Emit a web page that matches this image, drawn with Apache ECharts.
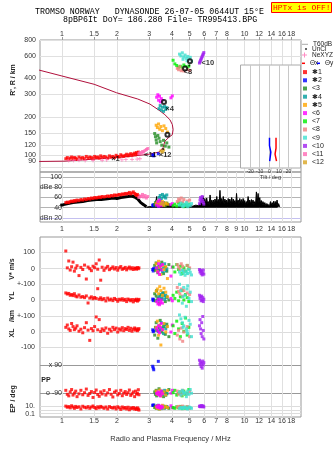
<!DOCTYPE html>
<html>
<head>
<meta charset="utf-8">
<script src="https://cdn.jsdelivr.net/npm/echarts@6/dist/echarts.min.js"></script>
<style>
html, body { margin: 0; padding: 0; background: #fff; }
#chart { width: 335px; height: 451px; }
</style>
</head>
<body>
<div id="chart"></div>
<script>
// --- tick labels ---
const topTicks = [1, 1.5, 2, 3, 4, 5, 6, 7, 8, 10, 12, 14, 16, 18];
const midTicks = [1, 1.5, 2, 3, 4, 5, 6, 7, 8, 9, 10, 12, 14, 16, 18];
const heightTicks = [80, 90, 100, 120, 150, 200, 300, 400, 600, 800];
const dbTicks = [20, 40, 60, 80, 100];
const dbTickText = {20: 'dBn 20', 40: '40', 60: '60', 80: 'dBe 80', 100: '100'};
const tiltTicks = [-20, -10, 0, 10, 20];

// --- model profile (MHz, km) ---
const profileFreq = [0.75, 1.04, 1.30, 1.60, 2.00, 2.50, 3.00, 3.40, 3.58, 3.66, 3.82, 4.02, 4.06, 4.02, 3.90, 3.66, 3.44, 3.03, 2.60, 1.99, 1.50, 1.00, 0.75];
const profileHeight = [89.5, 90, 92, 94, 96, 99, 102, 106, 115, 129, 137, 145, 159, 174, 190, 208, 223, 252, 276, 309, 360, 418, 465];

// --- echo cluster 1 (red) ---
const c1Freq = [1.05,1.07,1.09,1.11,1.13,1.15,1.17,1.19,1.21,1.24,1.27,1.30,1.33,1.36,1.39,1.42,1.45,1.48,1.51,1.54,1.57,1.60,1.63,1.66,1.70,1.74,1.78,1.82,1.86,1.90,1.94,1.98,2.02,2.06,2.10,2.14,2.18,2.22,2.26,2.30,2.34,2.38,2.42,2.46,2.50,2.53,2.56,2.59,2.62,2.64];
const c1Height = [94,96,93,95,97,94,96,95,93,97,95,96,94,98,95,97,96,94,98,96,97,95,99,96,98,97,95,99,97,98,96,100,98,97,101,99,98,100,102,99,101,103,100,102,104,101,105,103,106,104];
const c1Amp = [50,51,50,52,53,52,54,53,55,54,56,55,57,56,58,57,59,58,60,59,60,61,60,62,61,62,63,62,64,63,65,64,65,66,65,67,66,68,67,68,70,67,69,71,68,66,64,66,63,62];
const c1Vstar = [108,5,47,-8,12,40,-15,3,18,-42,8,-5,22,-63,10,0,-12,15,6,30,-3,53,-70,9,-10,4,14,-6,2,11,-2,7,-9,5,13,-4,1,8,-7,3,10,-1,6,-5,4,2,-3,7,0,5];
const c1YL = [45,38,42,30,35,28,40,25,20,32,18,22,15,26,-19,12,20,8,16,10,72,5,14,2,9,-6,12,0,6,-4,10,3,-8,5,0,8,-2,4,-10,6,1,-5,3,-12,2,-3,5,-7,-1,4];
const c1XL = [30,45,20,10,55,35,15,25,40,5,18,-5,28,60,12,-54,22,8,35,97,14,80,3,20,10,26,-8,18,6,30,15,25,0,20,12,28,8,22,16,30,10,24,5,18,26,12,20,8,15,22];
const c1PP = [-70,-95,-105,-80,-65,-100,-88,-75,-110,-92,-70,-98,-85,-62,-102,-90,-78,-115,-84,-68,-96,-108,-80,-93,-72,-100,-86,-65,-95,-112,-82,-74,-99,-90,-70,-104,-88,-78,-96,-85,-68,-102,-92,-80,-110,-75,-94,-88,-66,-98];
const c1EP = [12,6,9,4,15,7,3,10,5,8,2,11,6,4,9,3,7,13,5,2.5,8,4,10,6,3,7,2,9,5,3.5,6,2,8,4,1.5,7,3,5,2,6,1.2,4,2.5,5,1.8,3,1.5,4,2,1];

// --- clusters 2..12 ---
const c2Freq = [3.14, 3.16, 3.18, 3.37];
const c2Height = [100, 101, 99, 103];
const c2Amp = [45, 44, 46, 43];
const c2Vstar = [-5, -14, 2, -9];
const c2YL = [6, -4, 2, 0];
const c2XL = [14, 2, 8, 5];
const c2PP = [82, 71, 60, 113];
const c2EP = [22, 18, 25, 20];

const c3Freq = [3.22,3.25,3.28,3.30,3.35,3.40,3.45,3.52,3.60,3.68,3.75,3.85];
const c3Height = [148,140,132,125,143,136,128,120,131,118,125,116];
const c3Amp = [46,50,44,52,48,45,53,47,50,44,49,46];
const c3Vstar = [20,-10,35,5,-25,15,-5,40,-30,10,-15,25];
const c3YL = [40,-5,25,60,10,-20,30,5,45,-10,20,0];
const c3XL = [-20,30,60,10,-40,25,75,0,35,-15,50,-30];
const c3PP = [-80,-95,-70,-105,-88,-60,-98,-75,-110,-85,-92,-65];
const c3EP = [5,12,3,8,15,2,6,10,4,9,7,3];

const c4Freq = [3.40,3.45,3.50,3.55,3.60,3.65,3.70,3.75];
const c4Height = [232,245,226,238,221,241,229,236];
const c4Amp = [60,64,58,66,61,63,59,65];
const c4Vstar = [10,-5,25,-20,5,30,-12,0];
const c4YL = [20,35,10,45,25,5,30,15];
const c4XL = [40,15,60,25,-10,50,20,35];
const c4PP = [-88,-100,-78,-95,-84,-70,-102,-90];
const c4EP = [4,8,2.5,6,12,3,5,9];

const c5Freq = [3.28,3.33,3.38,3.43,3.48,3.55,3.62,3.70,3.78];
const c5Height = [172,165,176,160,168,156,170,162,152];
const c5Amp = [48,51,46,50,47,52,45,49,47];
const c5Vstar = [30,-15,45,8,-35,20,-5,12,-60];
const c5YL = [55,70,40,85,60,30,75,50,20];
const c5XL = [30,70,-20,45,-84,15,55,0,35];
const c5PP = [-75,-95,-85,-68,-105,-90,-80,-100,-72];
const c5EP = [6,3,14,2,8,20,4,11,5];

const c6Freq = [3.30,3.35,3.38,3.42,3.46,3.50,3.55,3.95,4.02];
const c6Height = [285,298,270,290,262,278,268,282,292];
const c6Amp = [45,52,43,55,47,44,50,46,48];
const c6Vstar = [5,-20,30,-35,15,-8,25,-45,10];
const c6YL = [-10,-25,5,-30,-15,0,-20,10,-5];
const c6XL = [25,10,40,-5,30,55,15,0,45];
const c6PP = [-90,-80,-98,-85,-105,-75,-92,-88,-70];
const c6EP = [10,5,18,7,3,12,6,15,4];

const c7Freq = [4.06,4.15,4.25,4.35,4.45,4.55,4.65,4.75,4.85,4.95];
const c7Height = [555,520,505,490,498,485,510,495,480,500];
const c7Amp = [44,47,43,49,45,48,42,46,44,47];
const c7Vstar = [10,-20,25,-5,15,-30,5,-15,20,0];
const c7YL = [30,10,50,-5,20,60,0,35,15,-10];
const c7XL = [40,-10,70,20,-30,55,5,90,-20,30];
const c7PP = [-85,-70,-100,-90,-80,-105,-75,-95,-88,-65];
const c7EP = [5,3,8,4,10,2.5,6,3,7,4];

const c8Freq = [4.28,4.35,4.42,4.50,4.58,4.65,4.85,5.00];
const c8Height = [480,468,495,460,472,458,470,462];
const c8Amp = [52,57,54,59,51,56,53,55];
const c8Vstar = [25,10,-5,30,15,-10,20,5];
const c8YL = [80,55,40,70,25,60,45,35];
const c8XL = [-20,10,-45,25,-60,0,35,-30];
const c8PP = [-75,-95,-80,-100,-70,-88,-92,-78];
const c8EP = [6,10,4,8,12,5,9,3];

const c9Freq = [4.40,4.48,4.56,4.64,4.72,4.80,4.88,4.96,5.04,5.12,4.60,4.84];
const c9Height = [620,600,635,590,610,575,595,560,585,545,565,550];
const c9Amp = [45,49,43,47,44,50,42,46,44,48,43,47];
const c9Vstar = [-20,-35,-10,-25,-40,-15,-30,-5,-22,-38,-12,-28];
const c9YL = [100,60,-20,80,30,-40,90,10,50,-10,20,70];
const c9XL = [110,85,60,40,95,20,-10,75,50,-30,30,5];
const c9PP = [-80,-100,-70,-90,-85,-110,-75,-95,-65,-88,-78,-92];
const c9EP = [3,5,2.5,4,6,3.5,2,7,4.5,3,5.5,2.8];

const c10Freq = [5.66,5.70,5.74,5.78,5.82,5.86,5.90,5.94,5.98];
const c10Height = [528,540,555,568,580,595,610,622,638];
const c10Amp = [48,55,60,52,58,62,54,50,47];
const c10Vstar = [-5,-20,-10,-30,-15,-38,-25,-8,-33];
const c10YL = [30,10,20,-5,25,0,15,-10,5];
const c10XL = [40,80,20,-10,60,-30,100,10,-45];
const c10PP = [120,95,110,80,100,70,115,90,105];
const c10EP = [10,14,8,12,16,9,13,11,7];

const c11Freq = [2.64,2.68,2.72,2.76,2.80,2.85,2.90,2.95];
const c11Height = [103,105,104,107,106,109,111,113];
const c11Amp = [60,63,62,66,61,64,59,62];

const c12Freq = [3.48, 3.55, 3.60];
const c12Height = [108, 106, 110];
const c12Amp = [47, 50, 45];

// --- electron density points, unclassified echoes, rings, tags ---
const neFreq = [1.09,1.16,1.24,1.34,1.48,1.66,1.76,2.13,2.24,2.42,2.58,2.67];
const neHeight = [91,91,91.5,91,91,91.5,92,92,92.5,93,93.5,94];
const unclFreq = [3.58, 4.98];
const unclHeight = [112, 505];
const ringFreq = [3.78, 3.62, 5.02, 4.72];
const ringHeight = [145, 262, 545, 478];
const tagFreq = [1.85, 2.80, 3.37, 3.66, 4.61, 5.77];
const tagHeight = [93, 101, 101, 232, 452, 525];
const tagText = ['×1', '<11', '×12', '×4', '<8', '<10'];

// --- received amplitude (black trace) ---
const ampLowFreq = [0.98,1.02,1.08,1.15,1.22,1.30,1.38,1.46,1.55,1.64,1.73,1.82,1.92,2.00,2.10,2.20,2.30,2.40,2.50,2.60,2.70,2.80,2.90];
const ampLowDb = [45,46,48,50,51,52,54,55,56,56,57,58,59,58,60,61,62,63,61,57,50,46,42];
const ampHiFreq = [2.90,2.95,3.00,3.05,3.10,3.15,3.20,3.25,3.30,3.33,3.40,3.45,3.50,3.55,3.60,3.70,3.80,3.90,4.00,4.10,4.20,4.30,4.40,4.50,4.60,4.70,4.80,4.90,5.00,5.10,5.20,5.30,5.40,5.50,5.60,5.70,5.80,5.93,6.00,6.06,6.13,6.20,6.27,6.33,6.40,6.47,6.55,6.62,6.70,6.76,6.83,6.88,6.96,7.04,7.12,7.19,7.26,7.33,7.40,7.48,7.56,7.64,7.72,7.80,7.88,7.96,8.05,8.13,8.22,8.30,8.40,8.50,8.58,8.66,8.75,8.85,8.94,9.03,9.12,9.22,9.31,9.41,9.50,9.60,9.70,9.81,9.92,10.02,10.12,10.23,10.34,10.45,10.56,10.67,10.78,10.90,11.00,11.12,11.25,11.36,11.48,11.60,11.72,11.85,11.97,12.10,12.22,12.35,12.48,12.60,12.75,12.90,13.05,13.20,13.35,13.50,13.70,13.85,14.00,14.15,14.30,14.45,14.60,14.75,14.90,15.05,15.20,15.35,15.50,15.60];
const ampHiDb = [41,43,42,44,42,45,43,47,62,44,48,43,46,42,47,44,49,43,46,42,44,41,45,42,46,43,45,42,44,41,43,42,45,43,44,48,46,62,50,58,47,59,48,52,46,65,49,55,47,55,46,57,50,62,48,56,50,74,47,58,49,62,47,57,50,55,46,58,49,57,48,60,47,57,50,54,46,68,50,55,47,58,49,56,47,58,50,54,46,52,48,62,49,55,47,56,48,55,46,52,47,71,50,68,49,60,48,54,46,52,45,50,44,48,45,50,44,52,45,50,46,53,45,52,46,55,44,48,43,41];

// --- tilt inset (deg, km) ---
const tiltXDeg = [7, 7, 6, 6, 7.5, 7.5];
const tiltXHeight = [137, 114, 113, 102, 101, 90];
const tiltYDeg = [0.2, 0.2, 1.6, 1.6, 0.4, 0.4];
const tiltYHeight = [137, 119, 118, 106, 105, 90];

const lg = v => Math.log10(v);
const id = v => v;
const pts = (xs, ys, fx, fy) => xs.map((x, i) => [fx(x), fy(ys[i])]);

const X_MIN = -0.12, X_MAX = 1.3086;
const FONT = 'Liberation Sans';
const labelStyle = {fontFamily: FONT, fontSize: 7, color: '#333'};
const plusPath = 'path://M2,0H3V2H5V3H3V5H2V3H0V2H2Z';

const clusters = [
    {name: '✱1', color: '#ff0000', freq: c1Freq, height: c1Height, amp: c1Amp, vstar: c1Vstar, yl: c1YL, xl: c1XL, pp: c1PP, ep: c1EP},
    {name: '✱2', color: '#0000ff', freq: c2Freq, height: c2Height, amp: c2Amp, vstar: c2Vstar, yl: c2YL, xl: c2XL, pp: c2PP, ep: c2EP},
    {name: '<3', color: '#228b22', freq: c3Freq, height: c3Height, amp: c3Amp, vstar: c3Vstar, yl: c3YL, xl: c3XL, pp: c3PP, ep: c3EP},
    {name: '✱4', color: '#009c9c', freq: c4Freq, height: c4Height, amp: c4Amp, vstar: c4Vstar, yl: c4YL, xl: c4XL, pp: c4PP, ep: c4EP},
    {name: '✱5', color: '#ffa500', freq: c5Freq, height: c5Height, amp: c5Amp, vstar: c5Vstar, yl: c5YL, xl: c5XL, pp: c5PP, ep: c5EP},
    {name: '<6', color: '#ff00ff', freq: c6Freq, height: c6Height, amp: c6Amp, vstar: c6Vstar, yl: c6YL, xl: c6XL, pp: c6PP, ep: c6EP},
    {name: '<7', color: '#00ee00', freq: c7Freq, height: c7Height, amp: c7Amp, vstar: c7Vstar, yl: c7YL, xl: c7XL, pp: c7PP, ep: c7EP},
    {name: '<8', color: '#f08080', freq: c8Freq, height: c8Height, amp: c8Amp, vstar: c8Vstar, yl: c8YL, xl: c8XL, pp: c8PP, ep: c8EP},
    {name: '<9', color: '#40e0d0', freq: c9Freq, height: c9Height, amp: c9Amp, vstar: c9Vstar, yl: c9YL, xl: c9XL, pp: c9PP, ep: c9EP},
    {name: '<10', color: '#a020f0', freq: c10Freq, height: c10Height, amp: c10Amp, vstar: c10Vstar, yl: c10YL, xl: c10XL, pp: c10PP, ep: c10EP},
    {name: '<11', color: '#ff69b4', freq: c11Freq, height: c11Height, amp: c11Amp},
    {name: '<12', color: '#daa520', freq: c12Freq, height: c12Height, amp: c12Amp}
];

function dots(name, color, axis, data, size, z) {
    return {
        name: name, type: 'scatter', xAxisIndex: axis, yAxisIndex: axis, data: data,
        symbol: 'rect', symbolSize: size || 3, itemStyle: {color: color}, z: z || 3, silent: true
    };
}

const series = [];

series.push({
    name: 'profile', type: 'line', xAxisIndex: 0, yAxisIndex: 0,
    data: pts(profileFreq, profileHeight, lg, lg), showSymbol: false,
    lineStyle: {color: '#b0103c', width: 1}, z: 2, silent: true
});
series.push({
    name: 'T60dB', type: 'line', xAxisIndex: 1, yAxisIndex: 1, data: [],
    itemStyle: {color: '#aaa'}, lineStyle: {color: '#aaa'}
});
series.push({
    name: 'amplitude', type: 'line', xAxisIndex: 1, yAxisIndex: 1,
    data: pts(ampLowFreq, ampLowDb, lg, id), showSymbol: false,
    lineStyle: {color: '#000', width: 3}, z: 2, silent: true
});
series.push({
    name: 'amplitude', type: 'line', xAxisIndex: 1, yAxisIndex: 1,
    data: pts(ampHiFreq, ampHiDb, lg, id), showSymbol: false,
    lineStyle: {color: '#000', width: 1}, areaStyle: {color: '#000', opacity: 1, origin: 40},
    z: 2, silent: true
});

clusters.forEach(c => {
    series.push(dots(c.name, c.color, 0, pts(c.freq, c.height, lg, lg)));
    series.push(dots(c.name, c.color, 1, pts(c.freq, c.amp, lg, id)));
    if (c.vstar) {
        series.push(dots(c.name, c.color, 2, pts(c.freq, c.vstar, lg, id)));
        series.push(dots(c.name, c.color, 3, pts(c.freq, c.yl, lg, id)));
        series.push(dots(c.name, c.color, 4, pts(c.freq, c.xl, lg, id)));
        series.push(dots(c.name, c.color, 5, pts(c.freq, c.pp, lg, id)));
        series.push(dots(c.name, c.color, 6, pts(c.freq, c.ep, lg, lg)));
    }
});

series.push({
    name: 'NeXYZ', type: 'scatter', xAxisIndex: 0, yAxisIndex: 0,
    data: pts(neFreq, neHeight, lg, lg), symbol: plusPath, symbolSize: 4,
    itemStyle: {color: '#ff6eb4'}, z: 4, silent: true
});
series.push({
    name: 'UnCl', type: 'scatter', xAxisIndex: 0, yAxisIndex: 0,
    data: pts(unclFreq, unclHeight, lg, lg), symbol: 'circle', symbolSize: 2,
    itemStyle: {color: '#000'}, z: 4, silent: true
});
series.push({
    name: 'rings', type: 'scatter', xAxisIndex: 0, yAxisIndex: 0,
    data: pts(ringFreq, ringHeight, lg, lg), symbol: 'emptyCircle', symbolSize: 4,
    itemStyle: {color: '#000', borderWidth: 1}, z: 5, silent: true
});
series.push({
    name: 'tags', type: 'scatter', xAxisIndex: 0, yAxisIndex: 0,
    data: pts(tagFreq, tagHeight, lg, lg), symbolSize: 1,
    itemStyle: {color: 'rgba(0,0,0,0)'}, z: 6, silent: true,
    label: {
        show: true, position: 'right', distance: 0,
        formatter: p => tagText[p.dataIndex],
        fontFamily: FONT, fontSize: 7.5, fontWeight: 'bold', color: '#000'
    }
});
series.push({
    name: 'Θx', type: 'line', xAxisIndex: 7, yAxisIndex: 7,
    data: pts(tiltXDeg, tiltXHeight, id, lg), showSymbol: false,
    itemStyle: {color: '#ff0000'}, lineStyle: {color: '#ff0000', width: 1.5}, z: 6, silent: true
});
series.push({
    name: 'Θy', type: 'line', xAxisIndex: 7, yAxisIndex: 7,
    data: pts(tiltYDeg, tiltYHeight, id, lg), showSymbol: false,
    itemStyle: {color: '#0000ff'}, lineStyle: {color: '#0000ff', width: 1.5}, z: 6, silent: true
});

const fmtFreq = v => String(Math.round(Math.pow(10, v) * 10) / 10);

function freqAxis(gridIndex, extra) {
    return Object.assign({
        type: 'value', gridIndex: gridIndex, min: X_MIN, max: X_MAX,
        axisLine: {show: false}, axisTick: {show: false}, axisLabel: {show: false},
        splitLine: {show: false}
    }, extra);
}

function rowAxis(gridIndex, min, max, ticks, labels, extra) {
    return Object.assign({
        type: 'value', gridIndex: gridIndex, min: min, max: max,
        axisLine: {show: false},
        axisTick: {show: false, customValues: ticks},
        axisLabel: {
            show: true, customValues: Object.keys(labels).map(Number), margin: 5,
            formatter: v => labels[Math.round(v)], ...labelStyle
        },
        splitLine: {show: true, lineStyle: {color: '#dcdcdc', width: 1}}
    }, extra);
}

const lowerGrid = {left: 40, top: 237, width: 261, height: 180, outerBoundsMode: 'none'};
const smallLegendText = {fontFamily: FONT, fontSize: 6.5, color: '#222', lineHeight: 7};

function smallLegend(item, left, top, w, h) {
    return {data: [item], left: left, top: top, padding: 0, width: 40,
            itemWidth: w, itemHeight: h, selectedMode: false, textStyle: smallLegendText};
}

const option = {
    animation: false,
    backgroundColor: '#fff',
    title: [
        {text: 'TROMSO NORWAY   DYNASONDE 26-07-05 0644UT 15°E', left: 35, top: 8, padding: 0,
         textStyle: {fontFamily: 'Liberation Mono', fontSize: 8.3, fontWeight: 'normal', color: '#000'}},
        {text: '8pBP6It DoY= 186.280 File= TR995413.BPG', left: 63, top: 16, padding: 0,
         textStyle: {fontFamily: 'Liberation Mono', fontSize: 8.3, fontWeight: 'normal', color: '#000'}},
        {text: 'HPTx is OFF!', left: 271, top: 2, padding: [2, 1, 1, 2],
         backgroundColor: '#ffff00', borderColor: '#ff0000', borderWidth: 1,
         textStyle: {fontFamily: 'Liberation Mono', fontSize: 8, fontWeight: 'normal', color: '#ff0000'}}
    ],
    legend: [
        {data: clusters.map(c => c.name), orient: 'vertical', left: 303, top: 68, padding: 0,
         itemWidth: 4, itemHeight: 4, itemGap: 0, icon: 'rect', selectedMode: false,
         textStyle: {fontFamily: FONT, fontSize: 7, color: '#222', lineHeight: 8.2}},
        smallLegend({name: 'T60dB', icon: 'rect'}, 302, 40.8, 6, 1),
        smallLegend({name: 'UnCl', icon: 'circle'}, 305, 45.5, 2, 2),
        smallLegend({name: 'NeXYZ', icon: plusPath}, 302, 51.5, 5, 5),
        smallLegend({name: 'Θx', icon: 'rect'}, 302, 59.8, 3, 1.5),
        smallLegend({name: 'Θy', icon: 'rect'}, 317, 59.8, 3, 1.5)
    ],
    grid: [
        {left: 40, top: 40, width: 261, height: 132, show: true, borderColor: '#999', borderWidth: 1, outerBoundsMode: 'none'},
        {left: 40, top: 172, width: 261, height: 50, show: true, borderColor: '#999', borderWidth: 1, outerBoundsMode: 'none'},
        Object.assign({show: true, borderColor: '#999', borderWidth: 1}, lowerGrid),
        lowerGrid, lowerGrid, lowerGrid, lowerGrid,
        {left: 240.5, top: 65, width: 60, height: 103, show: true, borderColor: '#aaa', borderWidth: 1,
         backgroundColor: '#fff', z: 3, outerBoundsMode: 'none'}
    ],
    xAxis: [
        freqAxis(0, {
            position: 'top',
            axisTick: {show: true, customValues: topTicks.map(lg), length: 3, lineStyle: {color: '#999'}},
            axisLabel: {show: true, customValues: topTicks.map(lg), formatter: fmtFreq, margin: 2, ...labelStyle},
            splitLine: {show: true, lineStyle: {color: '#e0e0e0', width: 1}}
        }),
        freqAxis(1, {
            position: 'bottom',
            axisTick: {show: false, customValues: midTicks.map(lg)},
            axisLabel: {show: true, customValues: midTicks.map(lg), formatter: fmtFreq, margin: 4, ...labelStyle},
            splitLine: {show: true, lineStyle: {color: '#e0e0e0', width: 1}}
        }),
        freqAxis(2, {
            position: 'bottom',
            axisTick: {show: false, customValues: topTicks.map(lg)},
            axisLabel: {show: true, customValues: topTicks.map(lg), formatter: fmtFreq, margin: 1, ...labelStyle},
            splitLine: {show: true, lineStyle: {color: '#e0e0e0', width: 1}},
            name: 'Radio and Plasma Frequency / MHz', nameLocation: 'middle', nameGap: 18,
            nameTextStyle: {fontFamily: FONT, fontSize: 7.5, color: '#333'}
        }),
        freqAxis(3), freqAxis(4), freqAxis(5), freqAxis(6),
        {
            type: 'value', gridIndex: 7, min: -30, max: 32.5, z: 4,
            axisLine: {show: false},
            axisTick: {show: false, customValues: tiltTicks},
            axisLabel: {show: true, customValues: tiltTicks, margin: 1, fontFamily: FONT, fontSize: 5, color: '#333'},
            splitLine: {show: true, lineStyle: {color: '#c8c8c8', width: 1}},
            name: 'Tilt / deg', nameLocation: 'middle', nameGap: 6,
            nameTextStyle: {fontFamily: FONT, fontSize: 5.5, color: '#333'}
        }
    ],
    yAxis: [
        {
            type: 'value', gridIndex: 0, min: lg(74), max: lg(800),
            axisLine: {show: false},
            axisTick: {show: false, customValues: heightTicks.map(lg)},
            axisLabel: {show: true, customValues: heightTicks.map(lg), margin: 4,
                        formatter: v => String(Math.round(Math.pow(10, v))), ...labelStyle},
            splitLine: {show: true, lineStyle: {color: '#e0e0e0', width: 1}}
        },
        {
            type: 'value', gridIndex: 1, min: 12, max: 110,
            axisLine: {show: false},
            axisTick: {show: false, customValues: dbTicks},
            axisLabel: {show: true, customValues: dbTicks, margin: -22,
                        formatter: v => dbTickText[Math.round(v)], ...labelStyle},
            splitLine: {show: true, lineStyle: {color: ['#c4c0f0', '#b4b4b4', '#b4b4b4', '#b4b4b4', '#b4b4b4'], width: 1}}
        },
        rowAxis(2, -904.3, 193.3, [0, 100], {0: '0', 100: '100'}),
        rowAxis(3, -745.2, 401.3, [0, 100], {0: '0', 100: '+-100'}),
        rowAxis(4, -548.4, 612.9, [-100, 0, 100], {'-100': '-100', 0: '0', 100: '+-100'}),
        rowAxis(5, -238.5, 898.6, [-90, 90], {'-90': 'o -90', 90: 'x 90'}, {
            splitLine: {show: true, lineStyle: {color: '#999', width: 1}}
        }),
        rowAxis(6, -1.9, 47.4, [-1, 0, 1], {'-1': '0.1', 1: '10.'}),
        {type: 'value', gridIndex: 7, min: 1.9006, max: 2.7072, show: false}
    ],
    graphic: [
        {type: 'text', x: 13, y: 80, rotation: Math.PI / 2,
         style: {text: "R', R / km", fill: '#222', font: 'bold 7px "Liberation Sans"', align: 'center', verticalAlign: 'middle'}},
        {type: 'text', x: 12, y: 269, rotation: Math.PI / 2,
         style: {text: 'V* m/s', fill: '#222', font: 'bold 7px "Liberation Sans"', align: 'center', verticalAlign: 'middle'}},
        {type: 'text', x: 12, y: 296, rotation: Math.PI / 2,
         style: {text: 'YL', fill: '#222', font: 'bold 7px "Liberation Sans"', align: 'center', verticalAlign: 'middle'}},
        {type: 'text', x: 12, y: 316, rotation: Math.PI / 2,
         style: {text: '/km', fill: '#222', font: 'bold 7px "Liberation Sans"', align: 'center', verticalAlign: 'middle'}},
        {type: 'text', x: 12, y: 333, rotation: Math.PI / 2,
         style: {text: 'XL', fill: '#222', font: 'bold 7px "Liberation Sans"', align: 'center', verticalAlign: 'middle'}},
        {type: 'text', x: 46, y: 380,
         style: {text: 'PP', fill: '#222', font: 'bold 7px "Liberation Sans"', align: 'center', verticalAlign: 'middle'}},
        {type: 'text', x: 13, y: 399, rotation: Math.PI / 2,
         style: {text: 'EP / deg', fill: '#222', font: 'bold 7px "Liberation Sans"', align: 'center', verticalAlign: 'middle'}}
    ],
    series: series
};

// PP labels sit inside the frame
option.yAxis[5].axisLabel.margin = -22;

const chart = echarts.init(document.getElementById('chart'), null, {renderer: 'canvas'});
chart.setOption(option);
</script>
</body>
</html>
